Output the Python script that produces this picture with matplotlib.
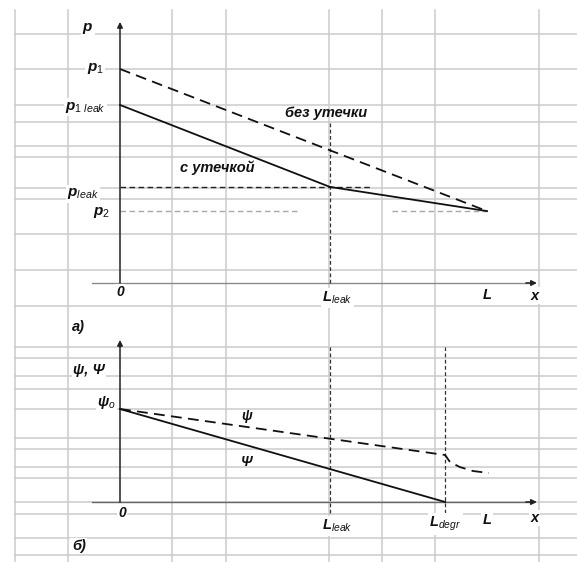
import matplotlib
matplotlib.use("Agg")
import matplotlib.pyplot as plt

plt.rcParams['font.family'] = ['Liberation Sans', 'DejaVu Sans']
plt.rcParams['mathtext.fontset'] = 'custom'
plt.rcParams['mathtext.rm'] = 'Liberation Sans'
plt.rcParams['mathtext.it'] = 'Liberation Sans:italic'
plt.rcParams['mathtext.bf'] = 'Liberation Sans:bold'
plt.rcParams['mathtext.bfit'] = 'Liberation Sans:italic:bold'

# ---- schematic values (pipe length normalised to L = 1) ----
L_LEAK = 0.572
L_DEGR = 0.886
L_END = 1.0

# pressure profiles, p1 = 1
P1 = 1.0
P1_LEAK = 0.832
P_LEAK = 0.449
P2 = 0.336
P_NOLEAK_X = [0.0, L_END]
P_NOLEAK_Y = [P1, P2]
P_LEAK_X = [0.0, L_LEAK, L_END]
P_LEAK_Y = [P1_LEAK, P_LEAK, P2]

# psi profiles, psi0 = 1
PSI0 = 1.0
PSI_X = [0.0, L_DEGR, 0.899, 0.926, 0.962, 1.005]
PSI_Y = [PSI0, 0.505, 0.430, 0.376, 0.333, 0.312]
PSI_CAP_X = [0.0, L_DEGR]
PSI_CAP_Y = [PSI0, 0.0]

# ---- sheet ruling behind the drawing (pixel layout) ----
W, H = 577, 562
GRID_X = [15, 68, 172, 226, 329, 382, 435, 539]
GRID_Y = [34, 69, 105, 122, 146, 157, 188, 199, 234, 270, 306, 347, 358,
          376, 389, 409, 438, 449, 467, 478, 502, 514, 538, 555]

fig = plt.figure(figsize=(W / 100, H / 100), dpi=100)
fig.patch.set_facecolor('white')

bg = fig.add_axes([0, 0, 1, 1])
bg.set_xlim(0, W)
bg.set_ylim(H, 0)
bg.axis('off')
for gx in GRID_X:
    bg.plot([gx, gx], [10, H], color='#cbcbcb', lw=1.1, zorder=0)
for gy in GRID_Y:
    bg.plot([15, W], [gy, gy], color='#cbcbcb', lw=1.1, zorder=0)

# panel axes share the full figure; limits place the origin of each diagram
X0_PX, XL_PX = 120, 487
SX = XL_PX - X0_PX


def panel(y0_px, unit_px):
    ax = fig.add_axes([0, 0, 1, 1])
    ax.patch.set_alpha(0)
    ax.set_xlim((0 - X0_PX) / SX, (W - X0_PX) / SX)
    ax.set_ylim((y0_px - H) / unit_px, y0_px / unit_px)
    ax.axis('off')
    return ax


BOX = dict(facecolor='white', edgecolor='none', pad=1.0)
BIG = dict(fontsize=10.5, fontweight='bold', fontstyle='italic', color='#111')


def label(ax, x, y, s, ha='center', va='center', size=10.5, box=True):
    kw = dict(BIG)
    kw['fontsize'] = size
    ax.text(x, y, s, ha=ha, va=va, bbox=BOX if box else None, zorder=5, **kw)


def arrow(ax, x0, y0, x1, y1, color):
    ax.annotate('', xy=(x1, y1), xytext=(x0, y0),
                arrowprops=dict(arrowstyle='-|>', color=color, lw=1.1,
                                mutation_scale=8, shrinkA=0, shrinkB=0),
                zorder=4)


LW = 1.3

# ================= a) pressure =================
axa = panel(283, 214)
X_AX0, X_AX1 = -0.076, 1.136

axa.plot([X_AX0, X_AX1 - 0.01], [0, 0], color='#8a8a8a', lw=1.0, zorder=3)
arrow(axa, X_AX1 - 0.03, 0, X_AX1, 0, '#222')
arrow(axa, 0, 0, 0, 1.22, '#222')

axa.plot([0, 0.681], [P_LEAK, P_LEAK], color='#222', lw=1.0,
         ls=(0, (4, 2.5)), zorder=3)
axa.plot([0, 0.49], [P2, P2], color='#a8a8a8', lw=1.0, ls=(0, (4, 2.5)), zorder=3)
axa.plot([0.741, L_END], [P2, P2], color='#a8a8a8', lw=1.0, ls=(0, (4, 2.5)), zorder=3)
axa.plot([L_LEAK, L_LEAK], [0, 0.752], color='#333', lw=0.9,
         ls=(0, (3, 2)), zorder=3)

axa.plot(P_NOLEAK_X, P_NOLEAK_Y, color='#111', lw=LW, ls=(0, (6, 3.5)), zorder=4)
axa.plot(P_LEAK_X, P_LEAK_Y, color='#111', lw=LW, zorder=4)

label(axa, -0.087, 1.19, r'$\mathbfit{p}$', size=11)
label(axa, -0.044, P1, r'$\mathbfit{p}_{\mathit{1}}$', ha='right', size=11)
label(axa, -0.038, P1_LEAK - 0.01, r'$\mathbfit{p}_{\mathit{1\ leak}}$', ha='right', size=11)
label(axa, -0.057, 0.416, r'$\mathbfit{p}_{\mathit{leak}}$', ha='right', size=11)
label(axa, -0.027, P2 - 0.005, r'$\mathbfit{p}_{\mathit{2}}$', ha='right', size=11)
label(axa, 0.561, 0.794, 'без утечки', box=False)
label(axa, 0.264, 0.537, 'с утечкой', box=False)
label(axa, 0.0, -0.042, '0', size=10)
label(axa, L_LEAK + 0.02, -0.07, r'$\mathbfit{L}_{\mathit{leak}}$', size=10.5)
label(axa, L_END, -0.056, 'L', size=10.5)
label(axa, 1.13, -0.06, 'x', size=10.5)
label(axa, -0.131, -0.206, 'а)', ha='left', size=10.5)

# ================= б) psi =================
axb = panel(502, 93)

axb.plot([X_AX0, X_AX1 - 0.01], [0, 0], color='#666', lw=1.0, zorder=3)
arrow(axb, X_AX1 - 0.03, 0, X_AX1, 0, '#222')
arrow(axb, 0, 0, 0, 1.742, '#222')

for xv in (L_LEAK, L_DEGR):
    axb.plot([xv, xv], [-0.118, 1.667], color='#333', lw=0.9,
             ls=(0, (3, 2)), zorder=3)

axb.plot(PSI_X, PSI_Y, color='#111', lw=LW, ls=(0, (6, 3.5)), zorder=4)
axb.plot(PSI_CAP_X, PSI_CAP_Y, color='#111', lw=LW, zorder=4)

label(axb, -0.128, 1.419, 'ψ, Ψ', ha='left', size=10.5)
label(axb, -0.011, 1.065, r'$\mathbfit{ψ}_{\mathit{o}}$', ha='right', size=10.5)
label(axb, 0.346, 0.925, 'ψ', size=10, box=False)
label(axb, 0.346, 0.43, 'Ψ', size=10, box=False)
label(axb, 0.005, -0.118, '0', size=10)
label(axb, L_LEAK + 0.02, -0.258, r'$\mathbfit{L}_{\mathit{leak}}$', size=10.5)
label(axb, L_DEGR, -0.237, r'$\mathbfit{L}_{\mathit{degr}}$', size=10.5)
label(axb, L_END, -0.194, 'L', size=10.5)
label(axb, 1.13, -0.172, 'x', size=10.5)
label(axb, -0.131, -0.473, 'б)', ha='left', size=10.5)

fig.savefig('out.png', dpi=100, facecolor='white')
